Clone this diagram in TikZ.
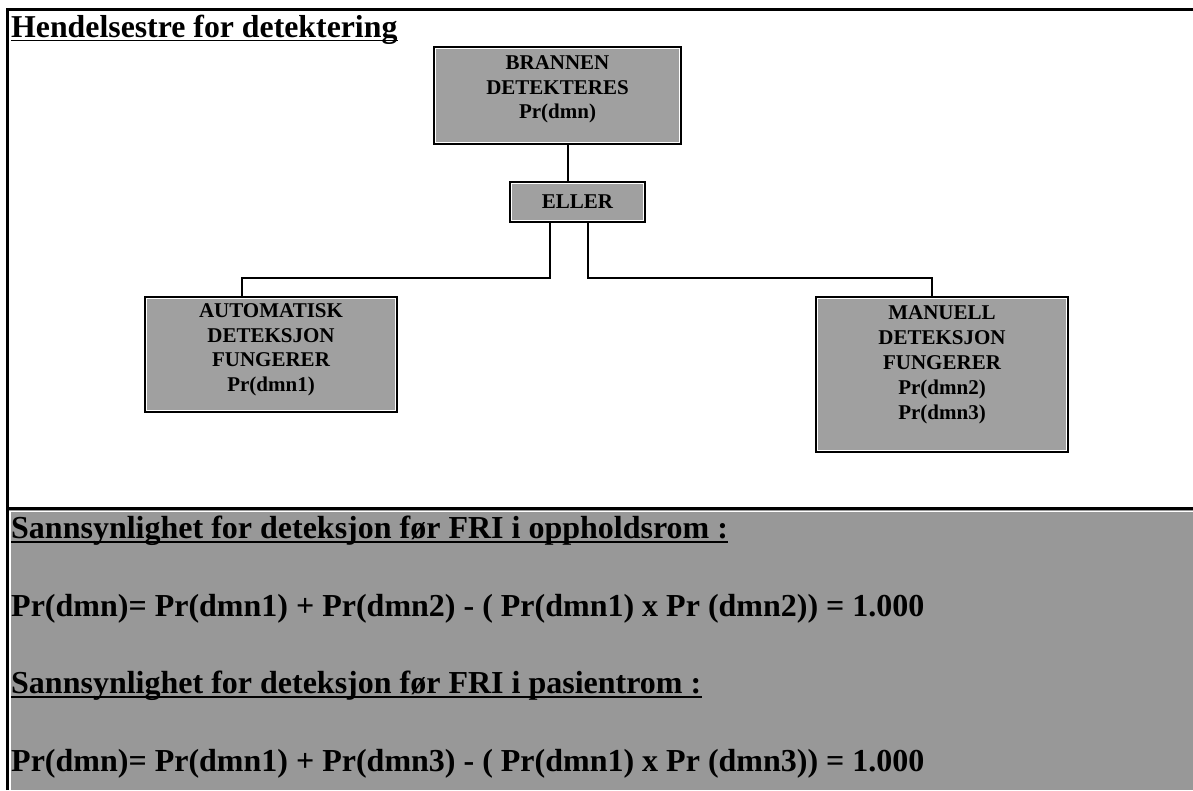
\documentclass[tikz,border=0pt]{standalone}
\usepackage{fontspec}
\setmainfont{Liberation Serif}
\usetikzlibrary{calc}
\definecolor{boxgrey}{RGB}{160,160,160}
\definecolor{panelgrey}{RGB}{152,152,152}
\tikzset{
  gbox/.style={rectangle, fill=boxgrey, draw=black, line width=2.6pt,
    inner sep=0pt, align=center, font=\fontsize{21}{24.5}\selectfont\bfseries},
  link/.style={draw=black, line width=2pt},
  frame/.style={draw=black, line width=3pt},
  bigtext/.style={anchor=base west, inner sep=0pt, font=\fontsize{32}{36}\selectfont\bfseries},
  uline/.style={draw=black, line width=1.6pt}
}
\begin{document}
\begin{tikzpicture}[x=1pt,y=-1pt]
\useasboundingbox (0,0) rectangle (1193,790);
\fill[white] (0,0) rectangle (1193,790);

% lower panel with the probability formulas
\fill[panelgrey] (7,508) rectangle (1193,790);
\draw[white, line width=1.2pt] (10,792) -- (10,511.5) -- (1193,511.5);
\draw[frame] (7,508) -- (1193,508);
\draw[frame] (7,790) -- (7,9) -- (1193,9);

% title
\node[bigtext, font=\fontsize{31.8}{36}\selectfont\bfseries] (title) at (11,37) {Hendelsestre for detektering};
\draw[uline] ([yshift=-3.5pt]title.base west) -- ([yshift=-3.5pt]title.base east);

% event tree boxes
\node[gbox, minimum width=247, minimum height=97] (brann) at (557.5,95.5) {};
\node[gbox, minimum width=135, minimum height=40] (eller) at (577.5,202) {ELLER};
\node[gbox, minimum width=252, minimum height=115] (auto) at (271,354.5) {};
\node[gbox, minimum width=252, minimum height=155] (man) at (942,374.5) {};

% thin white inner edge of each box
\foreach \b in {brann,eller,auto,man}{
  \draw[white, line width=1.1pt] ([xshift=2.8pt,yshift=-2.8pt]\b.north west)
    rectangle ([xshift=-2.8pt,yshift=2.8pt]\b.south east);
}

% box labels
\node[gbox, draw=none, fill=none, anchor=north] (brannt) at ([yshift=-9pt]brann.north)
  {BRANNEN\\DETEKTERES\\Pr(dmn)};
\node[gbox, draw=none, fill=none, anchor=north] (autot) at ([yshift=-7pt]auto.north)
  {AUTOMATISK\\DETEKSJON\\FUNGERER\\Pr(dmn1)};
\node[gbox, draw=none, fill=none, anchor=north,
  font=\fontsize{21}{25}\selectfont\bfseries] (mant) at ([yshift=-9pt]man.north)
  {MANUELL\\DETEKSJON\\FUNGERER\\Pr(dmn2)\\Pr(dmn3)};

% connectors
\coordinate (top) at (568,0);
\coordinate (jl) at (550,278);
\coordinate (jr) at (588,278);
\coordinate (al) at (242,0);
\coordinate (mr) at (932,0);
\draw[link] (brann.south -| top) -- (eller.north -| top);
\draw[link] (eller.south -| jl) -- (jl) -| (auto.north -| al);
\draw[link] (eller.south -| jr) -- (jr) -| (man.north -| mr);

% formulas
\node[bigtext] (h1) at (11,538) {Sannsynlighet for deteksjon før FRI i oppholdsrom :};
\draw[uline] ([yshift=-4pt]h1.base west) -- ([yshift=-4pt]h1.base east);
\node[bigtext] (f1) at (11,616) {Pr(dmn)= Pr(dmn1) + Pr(dmn2) - ( Pr(dmn1) x Pr (dmn2)) = 1.000};
\node[bigtext] (h2) at (11,693) {Sannsynlighet for deteksjon før FRI i pasientrom :};
\draw[uline] ([yshift=-4pt]h2.base west) -- ([yshift=-4pt]h2.base east);
\node[bigtext] (f2) at (11,771) {Pr(dmn)= Pr(dmn1) + Pr(dmn3) - ( Pr(dmn1) x Pr (dmn3)) = 1.000};
\end{tikzpicture}
\end{document}
